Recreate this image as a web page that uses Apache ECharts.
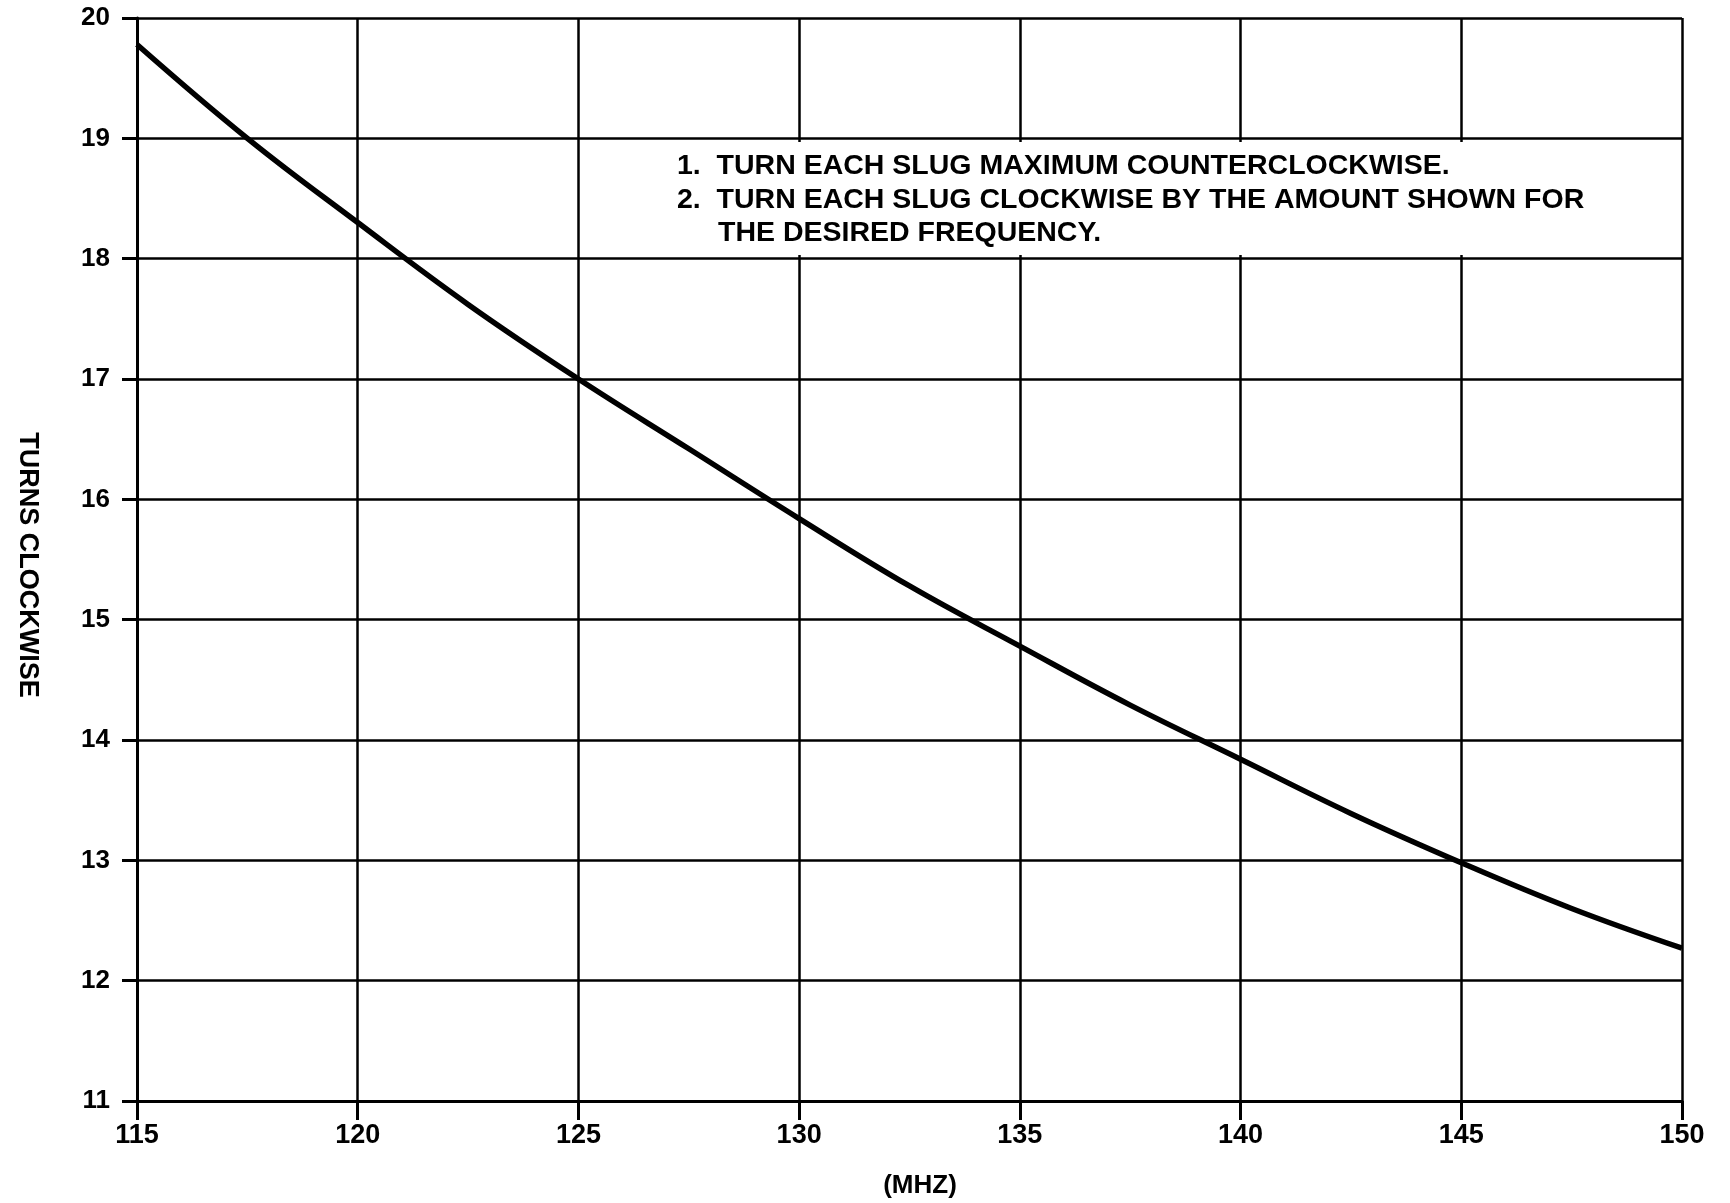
<!DOCTYPE html>
<html>
<head>
<meta charset="utf-8">
<script src="https://cdn.jsdelivr.net/npm/echarts@6/dist/echarts.min.js"></script>
<style>
html,body{margin:0;padding:0;background:#fff;}
#chart{width:1730px;height:1203px;}
</style>
</head>
<body>
<div id="chart"></div>
<script>
// Frequency (MHz) and turns clockwise
const freqMHz = [115, 117.5, 120, 122.5, 125, 127.5, 130, 132.5, 135, 137.5, 140, 142.5, 145, 147.5, 150];
const turnsClockwise = [19.78, 19.0, 18.30, 17.62, 17.0, 16.42, 15.84, 15.28, 14.78, 14.29, 13.84, 13.39, 12.98, 12.6, 12.27];
const xTicks = [115, 120, 125, 130, 135, 140, 145, 150];
const yTicks = [11, 12, 13, 14, 15, 16, 17, 18, 19, 20];
const noteLines = [
  '1.  TURN EACH SLUG MAXIMUM COUNTERCLOCKWISE.',
  '2.  TURN EACH SLUG CLOCKWISE BY THE AMOUNT SHOWN FOR',
  'THE DESIRED FREQUENCY.'
];
const noteBox = { x: [126, 149.8], y: [18.03, 18.97] };
const xName = '(MHZ)';
const yName = 'TURNS CLOCKWISE';

const FONT = '"Liberation Sans", Arial, Helvetica, sans-serif';
const chart = echarts.init(document.getElementById('chart'), null, { renderer: 'canvas' });

const option = {
  backgroundColor: '#ffffff',
  animation: false,
  grid: { left: 137, right: 48, top: 18, bottom: 102, containLabel: false },
  xAxis: {
    type: 'value',
    min: xTicks[0],
    max: xTicks[xTicks.length - 1],
    interval: 5,
    axisLine: { show: true, onZero: false, lineStyle: { color: '#000', width: 3 } },
    axisTick: { show: true, length: 19, lineStyle: { color: '#000', width: 3 } },
    axisLabel: { color: '#000', fontFamily: FONT, fontWeight: 'bold', fontSize: 27, margin: 21 },
    splitLine: { show: true, lineStyle: { color: '#000', width: 2.5 } }
  },
  yAxis: {
    type: 'value',
    min: yTicks[0],
    max: yTicks[yTicks.length - 1],
    interval: 1,
    axisLine: { show: true, onZero: false, lineStyle: { color: '#000', width: 3 } },
    axisTick: { show: true, length: 15, lineStyle: { color: '#000', width: 3 } },
    axisLabel: { color: '#000', fontFamily: FONT, fontWeight: 'bold', fontSize: 26, margin: 27 },
    splitLine: { show: true, lineStyle: { color: '#000', width: 2.5 } }
  },
  series: [{
    type: 'line',
    data: freqMHz.map((f, i) => [f, turnsClockwise[i]]),
    smooth: 0.4,
    showSymbol: false,
    symbol: 'none',
    lineStyle: { color: '#000', width: 5.5 },
    z: 5,
    markArea: {
      silent: true,
      itemStyle: { color: '#ffffff', opacity: 1 },
      data: [[{ coord: [noteBox.x[0], noteBox.y[0]] }, { coord: [noteBox.x[1], noteBox.y[1]] }]]
    }
  }],
  graphic: [
    { type: 'text', left: 677, top: 152, z: 100,
      style: { text: noteLines[0], font: 'bold 28.5px ' + FONT, fill: '#000' } },
    { type: 'text', left: 677, top: 186, z: 100,
      style: { text: noteLines[1], font: 'bold 28.5px ' + FONT, fill: '#000' } },
    { type: 'text', left: 718, top: 219, z: 100,
      style: { text: noteLines[2], font: 'bold 28.5px ' + FONT, fill: '#000' } },
    { type: 'text', x: 920, y: 1186, z: 100,
      style: { text: xName, font: 'bold 26px ' + FONT, fill: '#000', align: 'center', verticalAlign: 'middle' } },
    { type: 'text', x: 27, y: 565, rotation: -Math.PI / 2, z: 100,
      style: { text: yName, font: 'bold 27px ' + FONT, fill: '#000', align: 'center', verticalAlign: 'middle' } }
  ]
};
chart.setOption(option);
</script>
</body>
</html>
